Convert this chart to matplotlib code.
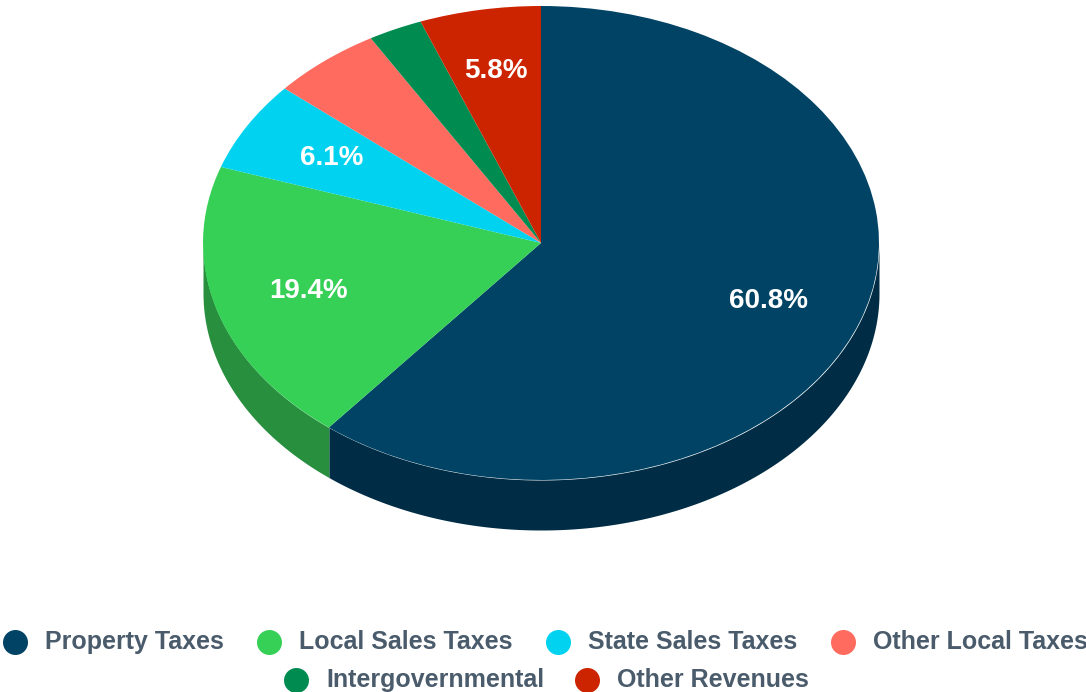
import matplotlib.pyplot as plt
import numpy as np

labels = ['Property Taxes', 'Local Sales Taxes', 'State Sales Taxes',
          'Other Local Taxes', 'Intergovernmental', 'Other Revenues']
values = [60.8, 19.4, 6.1, 5.3, 2.6, 5.8]
shown = ['60.8%', '19.4%', '6.1%', '', '', '5.8%']
colors = ['#004364', '#36d057', '#00d2f0', '#ff6b5e', '#008c50', '#cc2400']
side_colors = ['#002d45', '#278f3e']

W, H = 1086, 692
cx, cy, rx, ry, depth = 541, 243, 338, 237, 50

plt.rcParams['font.family'] = ['Liberation Sans', 'DejaVu Sans']
fig = plt.figure(figsize=(W / 100, H / 100), dpi=100)
ax = fig.add_axes([0, 0, 1, 1])

# pie in unit circle, squashed by the axis limits
wedges, _ = ax.pie(values, colors=colors, startangle=90, counterclock=False,
                   radius=1, wedgeprops={'linewidth': 0})
ax.set_aspect('auto')
ax.set_xlim(-cx / rx, (W - cx) / rx)
ax.set_ylim((cy - H) / ry, cy / ry)

# side wall of the slices facing the viewer
d = depth / ry
start = 90.0
for v, c in zip(values, colors):
    end = start - v * 3.6
    a1, a2 = max(end, -180), min(start, 0)
    if a1 < a2:
        t = np.radians(np.linspace(a1, a2, 200))
        side = side_colors[values.index(v)] if values.index(v) < 2 else c
        ax.fill_between(np.cos(t), np.sin(t), np.sin(t) - d, color=side, lw=0, zorder=0)
    start = end

# pixel overlay for value labels and legend
ov = fig.add_axes([0, 0, 1, 1])
ov.set_xlim(0, W)
ov.set_ylim(H, 0)
ov.axis('off')

label_pos = [(768, 301), (309, 291), (332, 158), None, None, (496, 71)]
for s, p in zip(shown, label_pos):
    if s:
        ov.text(p[0], p[1], s, color='white', fontsize=20, fontweight='bold',
                ha='center', va='center')

legend_pos = [(15, 642), (269, 642), (558, 642), (843, 642), (296, 680), (587, 680)]
for name, c, p in zip(labels, colors, legend_pos):
    ov.plot(p[0], p[1], 'o', color=c, markersize=18, markeredgewidth=0)
    ov.text(p[0] + 30, p[1], name, color='#4a5b6c', fontsize=18, fontweight='bold',
            ha='left', va='center')

fig.savefig('out.png', dpi=100)
